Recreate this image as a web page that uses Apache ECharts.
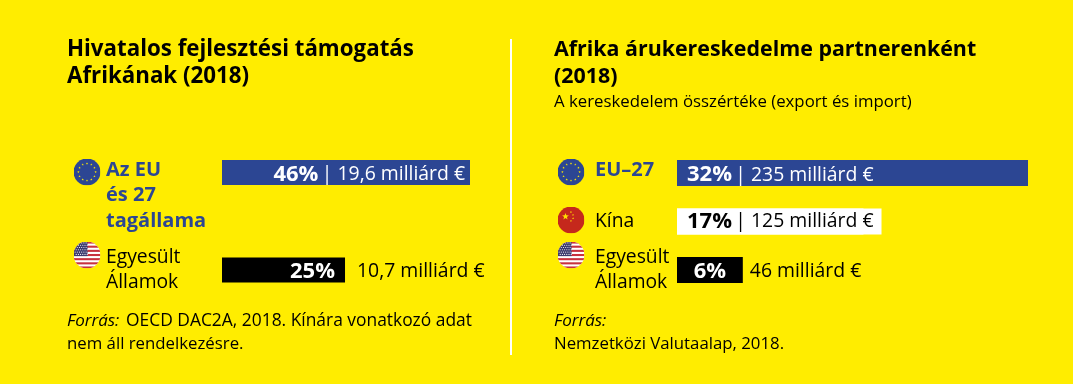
<!DOCTYPE html>
<html><head><meta charset="utf-8">
<style>html,body{margin:0;padding:0;background:#ffed00}#c{width:1073px;height:384px}</style>
<script src="https://cdn.jsdelivr.net/npm/echarts@6/dist/echarts.min.js"></script>
</head><body><div id="c"></div>
<script>
const leftCategories = ['Az EU és 27 tagállama', 'Egyesült Államok'];
const leftShares = [46, 25];
const leftAmounts = ['19,6 milliárd €', '10,7 milliárd €'];
const rightCategories = ['EU-27', 'Kína', 'Egyesült Államok'];
const rightShares = [32, 17, 6];
const rightAmounts = ['235 milliárd €', '125 milliárd €', '46 milliárd €'];

const FONT = '"Open Sans", sans-serif';
const BLUE = '#2c4693', BG = '#ffed00';

function svgUri(inner){
  const s = '<svg xmlns="http://www.w3.org/2000/svg" width="108" height="108" viewBox="0 0 27 27"><defs><clipPath id="k"><circle cx="13.5" cy="13.5" r="13.5"/></clipPath></defs><g clip-path="url(#k)">'+inner+'</g></svg>';
  return 'data:image/svg+xml;charset=utf-8,'+encodeURIComponent(s);
}
function star(cx,cy,r,fill,rot){
  let p=[];
  for(let i=0;i<10;i++){const a=(rot||0)-Math.PI/2+i*Math.PI/5,q=i%2?r*0.4:r;p.push((cx+q*Math.cos(a)).toFixed(2)+','+(cy+q*Math.sin(a)).toFixed(2));}
  return '<polygon points="'+p.join(' ')+'" fill="'+fill+'"/>';
}
let euInner='<rect width="27" height="27" fill="'+BLUE+'"/>';
for(let i=0;i<12;i++){const a=i*Math.PI/6;euInner+=star(13.5+8.6*Math.cos(a),13.5+8.6*Math.sin(a),1.25,'#ffed00');}
const EU=svgUri(euInner);
const CN=svgUri('<rect width="27" height="27" fill="#c5281c"/>'+star(8,10,3.6,'#ffde00')+star(13.4,5.6,1.2,'#ffde00',.5)+star(15.6,8.4,1.2,'#ffde00',.9)+star(15.6,11.8,1.2,'#ffde00',0)+star(13.4,14.4,1.2,'#ffde00',.5));
let usInner='<rect width="27" height="27" fill="#fff"/>';
for(let i=0;i<7;i++){usInner+='<rect y="'+(i*4.16).toFixed(2)+'" width="27" height="2.08" fill="#c8313e"/>';}
usInner+='<rect width="14" height="14.6" fill="#3c3b6e"/>';
for(let r=0;r<6;r++)for(let c=0;c<6;c++){usInner+='<circle cx="'+(1.6+c*2.2+(r%2)*1.1).toFixed(1)+'" cy="'+(1.4+r*2.3).toFixed(1)+'" r=".55" fill="#fff"/>';}
const US=svgUri(usInner);

function flag(uri,cx,cy){return {type:'image',left:cx-13.5,top:cy-13.5,style:{image:uri,width:27,height:27},silent:true};}
function txt(s,x,y,o){return {type:'text',left:x,top:y,style:Object.assign({text:s,fill:'#000',font:'400 18px '+FONT,textVerticalAlign:'top'},o||{}),silent:true};}
const TITLE_L='700 22.3px '+FONT, TITLE_R='700 21.4px '+FONT, BLAB='700 20px '+FONT, NLAB='400 19.3px '+FONT, SMALL='400 16.8px '+FONT, SRC='400 17.4px '+FONT, ITAL='italic 400 17px '+FONT;

const rich=(c)=>({b:{fontFamily:FONT,fontWeight:700,fontSize:22,color:c},n:{fontFamily:FONT,fontSize:19.4,color:c}});
const inside=(pos,text,c,extra)=>Object.assign({show:true,position:pos,formatter:text,rich:rich(c)},extra||{});
const outside=(text,d)=>({show:true,position:'right',distance:d,formatter:text,fontFamily:FONT,fontSize:19.4,color:'#000',offset:[0,1]});

const option={
  animation:false,
  backgroundColor:BG,
  grid:[
    {left:222,width:248,top:123.75,height:195},
    {left:677,width:351,top:148.75,height:145.5}
  ],
  xAxis:[
    {gridIndex:0,type:'value',min:4.33,max:46,show:false},
    {gridIndex:1,type:'value',min:0,max:32,show:false}
  ],
  yAxis:[
    {gridIndex:0,type:'category',inverse:true,data:leftCategories,show:false},
    {gridIndex:1,type:'category',inverse:true,data:rightCategories,show:false}
  ],
  series:[
    {type:'bar',xAxisIndex:0,yAxisIndex:0,barWidth:25,barGap:'-100%',silent:true,data:[
      {value:leftShares[0],itemStyle:{color:BLUE},label:inside('insideRight','{b|'+leftShares[0]+'%} {n|| '+leftAmounts[0]+'}','#fff',{distance:5,offset:[0,2]})},
      {value:leftShares[1],itemStyle:{color:'#000'},label:inside('insideRight','{b|'+leftShares[1]+'%}','#fff',{distance:10,offset:[0,2]})}
    ]},
    {type:'bar',xAxisIndex:0,yAxisIndex:0,barWidth:25,silent:true,itemStyle:{color:'rgba(0,0,0,0)'},data:[
      {value:leftShares[0],label:{show:false}},
      {value:leftShares[1],label:outside(leftAmounts[1],12)}
    ]},
    {type:'bar',xAxisIndex:1,yAxisIndex:1,barWidth:26,barGap:'-100%',silent:true,data:[
      {value:rightShares[0],itemStyle:{color:BLUE},label:inside('insideLeft','{b|'+rightShares[0]+'%} {n|| '+rightAmounts[0]+'}','#fff',{distance:10,offset:[0,2]})},
      {value:rightShares[1],itemStyle:{color:'#fff'},label:inside('insideLeft','{b|'+rightShares[1]+'%} {n|| '+rightAmounts[1]+'}','#000',{distance:0,backgroundColor:'#fff',padding:[2,8,2,10]})},
      {value:rightShares[2],itemStyle:{color:'#000'},label:inside('inside','{b|'+rightShares[2]+'%}','#fff',{offset:[0,2]})}
    ]},
    {type:'bar',xAxisIndex:1,yAxisIndex:1,barWidth:26,silent:true,itemStyle:{color:'rgba(0,0,0,0)'},data:[
      {value:rightShares[0],label:{show:false}},
      {value:rightShares[1],label:{show:false}},
      {value:rightShares[2],label:outside(rightAmounts[2],7)}
    ]}
  ],
  graphic:{elements:[
    {type:'rect',shape:{x:510,y:39,width:2,height:316},style:{fill:'#fff'},silent:true},
    txt('Hivatalos fejlesztési támogatás',67,39,{font:TITLE_L}),
    txt('Afrikának (2018)',67,66,{font:TITLE_L}),
    txt('Afrika árukereskedelme partnerenként',554,39,{font:TITLE_R}),
    txt('(2018)',554,66,{font:TITLE_R}),
    txt('A kereskedelem összértéke (export és import)',554,94,{font:SMALL}),
    flag(EU,87,172), flag(US,87,255), flag(EU,571,172), flag(CN,571,220), flag(US,571,255),
    txt('Az EU',106,160,{font:BLAB,fill:BLUE}),
    txt('és 27',106,185,{font:BLAB,fill:BLUE}),
    txt('tagállama',106,211,{font:BLAB,fill:BLUE}),
    txt('Egyesült',106,248,{font:NLAB}),
    txt('Államok',106,273,{font:NLAB}),
    txt('EU–27',595,160,{font:BLAB,fill:BLUE}),
    txt('Kína',595,212,{font:NLAB}),
    txt('Egyesült',595,248,{font:NLAB}),
    txt('Államok',595,273,{font:NLAB}),
    txt('Forrás:',67,313,{font:ITAL}),
    txt('OECD DAC2A, 2018. Kínára vonatkozó adat',126,313,{font:SRC}),
    txt('nem áll rendelkezésre.',67,336,{font:SMALL}),
    txt('Forrás:',554,313,{font:ITAL}),
    txt('Nemzetközi Valutaalap, 2018.',554,336,{font:SMALL})
  ]}
};
const chart=echarts.init(document.getElementById('c'),null,{renderer:'canvas'});
chart.setOption(option);
</script></body></html>
